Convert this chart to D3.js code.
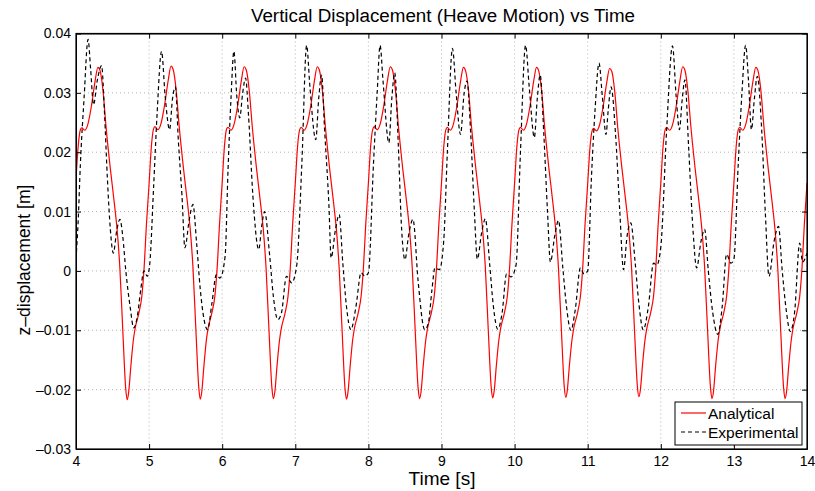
<!DOCTYPE html>
<meta charset="utf-8">
<style>
  body { margin: 0; background: #fff; }
  text { font-family: "Liberation Sans", Arial, sans-serif; fill: #000; }
  .grid line { stroke: #a0a0a0; stroke-width: 0.8; stroke-dasharray: 1,3; }
  .axis path, .axis line { stroke: #000; }
  .axis text { font-size: 14px; }
</style>
<body>
<svg width="815" height="491"></svg>
<script src="https://d3js.org/d3.v7.min.js"></script>
<script>
    // values: [time s, z m]
    let analytical = [
        [4.00,0.0154],[4.03,0.0210],[4.06,0.0238],[4.08,0.0241],[4.12,0.0237],[4.16,0.0246],[4.21,0.0277],[4.26,0.0319],[4.30,0.0343],[4.33,0.0337],[4.37,0.0303],[4.41,0.0244],[4.47,0.0172],[4.53,0.0108],[4.565,0.0066],[4.60,0.0005],[4.64,-0.0100],[4.68,-0.0198],[4.70,-0.0217],[4.72,-0.0205],[4.75,-0.0161],[4.785,-0.0116],[4.81,-0.0096],[4.86,-0.0071],[4.90,-0.0043],[4.93,0.0002],[4.965,0.0081],
        [5.00,0.0147],[5.03,0.0208],[5.06,0.0239],[5.08,0.0243],[5.12,0.0238],[5.16,0.0247],[5.21,0.0278],[5.26,0.0320],[5.30,0.0345],[5.33,0.0339],[5.37,0.0305],[5.41,0.0246],[5.47,0.0173],[5.53,0.0109],[5.565,0.0067],[5.60,0.0006],[5.64,-0.0099],[5.68,-0.0197],[5.70,-0.0216],[5.72,-0.0204],[5.75,-0.0160],[5.785,-0.0115],[5.81,-0.0095],[5.86,-0.0070],[5.90,-0.0042],[5.93,0.0003],[5.965,0.0082],
        [6.00,0.0149],[6.03,0.0209],[6.06,0.0239],[6.08,0.0242],[6.12,0.0237],[6.16,0.0246],[6.21,0.0277],[6.26,0.0319],[6.30,0.0344],[6.33,0.0338],[6.37,0.0304],[6.41,0.0245],[6.47,0.0172],[6.53,0.0108],[6.565,0.0066],[6.60,0.0005],[6.64,-0.0100],[6.68,-0.0197],[6.70,-0.0215],[6.72,-0.0204],[6.75,-0.0160],[6.785,-0.0116],[6.81,-0.0096],[6.86,-0.0071],[6.90,-0.0043],[6.93,0.0002],[6.965,0.0081],
        [7.00,0.0148],[7.03,0.0208],[7.06,0.0238],[7.08,0.0242],[7.12,0.0237],[7.16,0.0246],[7.21,0.0277],[7.26,0.0319],[7.30,0.0344],[7.33,0.0338],[7.37,0.0304],[7.41,0.0245],[7.47,0.0172],[7.53,0.0108],[7.565,0.0066],[7.60,0.0005],[7.64,-0.0100],[7.68,-0.0198],[7.70,-0.0216],[7.72,-0.0205],[7.75,-0.0161],[7.785,-0.0116],[7.81,-0.0096],[7.86,-0.0071],[7.90,-0.0043],[7.93,0.0002],[7.965,0.0081],
        [8.00,0.0148],[8.03,0.0209],[8.06,0.0239],[8.08,0.0243],[8.12,0.0238],[8.16,0.0247],[8.21,0.0278],[8.26,0.0320],[8.30,0.0344],[8.33,0.0338],[8.37,0.0304],[8.41,0.0245],[8.47,0.0172],[8.53,0.0108],[8.565,0.0066],[8.60,0.0005],[8.64,-0.0100],[8.68,-0.0197],[8.70,-0.0215],[8.72,-0.0204],[8.75,-0.0160],[8.785,-0.0116],[8.81,-0.0096],[8.86,-0.0071],[8.90,-0.0043],[8.93,0.0002],[8.965,0.0081],
        [9.00,0.0148],[9.03,0.0208],[9.06,0.0238],[9.08,0.0242],[9.12,0.0237],[9.16,0.0246],[9.21,0.0277],[9.26,0.0319],[9.30,0.0343],[9.33,0.0337],[9.37,0.0303],[9.41,0.0244],[9.47,0.0172],[9.53,0.0108],[9.565,0.0066],[9.60,0.0005],[9.64,-0.0100],[9.68,-0.0196],[9.70,-0.0214],[9.72,-0.0203],[9.75,-0.0160],[9.785,-0.0116],[9.81,-0.0096],[9.86,-0.0071],[9.90,-0.0043],[9.93,0.0002],[9.965,0.0081],
        [10.00,0.0148],[10.03,0.0208],[10.06,0.0238],[10.08,0.0242],[10.12,0.0237],[10.16,0.0246],[10.21,0.0277],[10.26,0.0319],[10.30,0.0343],[10.33,0.0337],[10.37,0.0303],[10.41,0.0244],[10.47,0.0172],[10.53,0.0108],[10.565,0.0066],[10.60,0.0005],[10.64,-0.0099],[10.68,-0.0196],[10.70,-0.0213],[10.72,-0.0202],[10.75,-0.0159],[10.785,-0.0116],[10.81,-0.0096],[10.86,-0.0071],[10.90,-0.0043],[10.93,0.0002],[10.965,0.0081],
        [11.00,0.0147],[11.03,0.0206],[11.06,0.0236],[11.08,0.0240],[11.12,0.0236],[11.16,0.0245],[11.21,0.0276],[11.26,0.0317],[11.30,0.0341],[11.33,0.0336],[11.37,0.0302],[11.41,0.0243],[11.47,0.0171],[11.53,0.0107],[11.565,0.0065],[11.60,0.0005],[11.64,-0.0099],[11.68,-0.0195],[11.70,-0.0212],[11.72,-0.0201],[11.75,-0.0158],[11.785,-0.0115],[11.81,-0.0096],[11.86,-0.0071],[11.90,-0.0043],[11.93,0.0002],[11.965,0.0081],
        [12.00,0.0148],[12.03,0.0208],[12.06,0.0238],[12.08,0.0242],[12.12,0.0237],[12.16,0.0246],[12.21,0.0277],[12.26,0.0319],[12.30,0.0344],[12.33,0.0338],[12.37,0.0304],[12.41,0.0245],[12.47,0.0172],[12.53,0.0108],[12.565,0.0066],[12.60,0.0005],[12.64,-0.0100],[12.68,-0.0197],[12.70,-0.0215],[12.72,-0.0204],[12.75,-0.0160],[12.785,-0.0116],[12.81,-0.0096],[12.86,-0.0071],[12.90,-0.0043],[12.93,0.0002],[12.965,0.0081],
        [13.00,0.0148],[13.03,0.0208],[13.06,0.0238],[13.08,0.0242],[13.12,0.0237],[13.16,0.0246],[13.21,0.0277],[13.26,0.0319],[13.30,0.0343],[13.33,0.0337],[13.37,0.0303],[13.41,0.0244],[13.47,0.0172],[13.53,0.0108],[13.565,0.0066],[13.60,0.0005],[13.64,-0.0100],[13.68,-0.0197],[13.70,-0.0215],[13.72,-0.0204],[13.75,-0.0160],[13.785,-0.0116],[13.81,-0.0096],[13.86,-0.0071],[13.90,-0.0043],[13.93,0.0002],[13.965,0.0081],
        [14.00,0.0148]
    ];

    let experimental = [
        [4.00,0.0020],[4.03,0.0085],[4.06,0.0180],[4.11,0.0290],[4.165,0.0390],[4.20,0.0340],[4.24,0.0280],[4.29,0.0320],[4.35,0.0346],[4.39,0.0266],[4.43,0.0154],[4.47,0.0070],[4.51,0.0030],[4.56,0.0070],[4.60,0.0087],[4.64,0.0058],[4.68,0.0002],[4.74,-0.0060],[4.79,-0.0096],[4.84,-0.0076],[4.886,-0.0031],[4.93,0.0000],[4.975,-0.0009],
        [5.01,0.0013],[5.06,0.0137],[5.11,0.0266],[5.17,0.0370],[5.22,0.0294],[5.28,0.0238],[5.32,0.0290],[5.36,0.0310],[5.40,0.0220],[5.45,0.0126],[5.49,0.0039],[5.55,0.0087],[5.60,0.0112],[5.65,0.0047],[5.70,-0.0031],[5.80,-0.0099],[5.86,-0.0054],[5.92,-0.0006],[5.97,-0.0012],
        [6.04,0.0025],[6.08,0.0171],[6.12,0.0290],[6.16,0.0370],[6.20,0.0294],[6.24,0.0258],[6.28,0.0300],[6.32,0.0325],[6.36,0.0262],[6.42,0.0126],[6.50,0.0036],[6.54,0.0075],[6.58,0.0100],[6.65,0.0025],[6.70,-0.0043],[6.76,-0.0082],[6.81,-0.0071],[6.88,-0.0009],[6.95,-0.0020],
        [7.02,0.0010],[7.09,0.0182],[7.155,0.0380],[7.20,0.0310],[7.28,0.0221],[7.32,0.0290],[7.36,0.0330],[7.40,0.0240],[7.46,0.0110],[7.49,0.0022],[7.55,0.0070],[7.60,0.0095],[7.65,0.0013],[7.70,-0.0060],[7.76,-0.0099],[7.83,-0.0060],[7.90,-0.0003],[7.95,-0.0009],
        [8.00,-0.0003],[8.07,0.0182],[8.12,0.0300],[8.16,0.0380],[8.20,0.0320],[8.28,0.0216],[8.32,0.0290],[8.36,0.0334],[8.41,0.0210],[8.45,0.0081],[8.50,0.0019],[8.55,0.0060],[8.61,0.0087],[8.68,-0.0017],[8.77,-0.0099],[8.82,-0.0088],[8.87,-0.0031],[8.91,0.0005],[8.97,0.0002],
        [9.03,0.0050],[9.08,0.0200],[9.15,0.0375],[9.20,0.0300],[9.26,0.0230],[9.31,0.0300],[9.35,0.0320],[9.40,0.0230],[9.45,0.0100],[9.49,0.0020],[9.55,0.0065],[9.60,0.0088],[9.66,0.0010],[9.71,-0.0060],[9.77,-0.0098],[9.83,-0.0070],[9.89,-0.0005],[9.95,-0.0010],
        [10.02,0.0010],[10.08,0.0200],[10.15,0.0380],[10.20,0.0310],[10.27,0.0225],[10.31,0.0290],[10.35,0.0330],[10.40,0.0230],[10.45,0.0100],[10.49,0.0015],[10.55,0.0060],[10.60,0.0085],[10.66,0.0005],[10.71,-0.0060],[10.77,-0.0100],[10.83,-0.0065],[10.90,0.0005],[10.95,-0.0005],
        [11.00,0.0000],[11.05,0.0154],[11.10,0.0270],[11.155,0.0350],[11.20,0.0294],[11.25,0.0230],[11.28,0.0270],[11.32,0.0310],[11.38,0.0232],[11.44,0.0098],[11.49,0.0002],[11.54,0.0060],[11.59,0.0081],[11.65,0.0013],[11.70,-0.0055],[11.76,-0.0099],[11.83,-0.0060],[11.90,0.0013],[11.945,0.0010],
        [12.00,0.0040],[12.08,0.0238],[12.16,0.0379],[12.21,0.0294],[12.255,0.0238],[12.29,0.0285],[12.33,0.0322],[12.38,0.0210],[12.44,0.0070],[12.49,0.0005],[12.55,0.0050],[12.60,0.0070],[12.65,0.0000],[12.71,-0.0070],[12.78,-0.0107],[12.84,-0.0060],[12.90,0.0028],[12.96,0.0013],
        [13.00,0.0020],[13.06,0.0182],[13.11,0.0300],[13.16,0.0380],[13.20,0.0320],[13.24,0.0238],[13.28,0.0290],[13.32,0.0328],[13.38,0.0238],[13.43,0.0098],[13.48,-0.0009],[13.55,0.0050],[13.61,0.0075],[13.66,0.0002],[13.72,-0.0070],[13.77,-0.0102],[13.83,-0.0070],[13.90,0.0047],[13.94,0.0015],[14.00,0.0030]
    ];

    let xTicks = [4, 5, 6, 7, 8, 9, 10, 11, 12, 13, 14];
    let yTicks = [-0.03, -0.02, -0.01, 0, 0.01, 0.02, 0.03, 0.04];
    let seriesNames = ["Analytical", "Experimental"];

    var svg = d3.select("svg");
    // plot box edges (avoid the name "top", it is window.top)
    var boxL = 76, boxR = 807, boxT = 33.5, boxB = 449;

    var x = d3.scaleLinear().domain([4, 14]).range([boxL, boxR]);
    var y = d3.scaleLinear().domain([-0.03, 0.04]).range([boxB, boxT]);

    svg.append("rect").attr("width", 815).attr("height", 491).attr("fill", "#fff");

    // dotted grid
    var grid = svg.append("g").attr("class", "grid");
    grid.selectAll("line.gx")
        .data(xTicks.slice(1, -1))
        .enter().append("line")
            .attr("x1", d => x(d)).attr("x2", d => x(d))
            .attr("y1", boxT).attr("y2", boxB);
    grid.selectAll("line.gy")
        .data(yTicks.slice(1, -1))
        .enter().append("line")
            .attr("x1", boxL).attr("x2", boxR)
            .attr("y1", d => y(d)).attr("y2", d => y(d));

    svg.append("clipPath").attr("id", "plot")
        .append("rect").attr("x", boxL).attr("y", boxT)
        .attr("width", boxR - boxL).attr("height", boxB - boxT);

    var line = d3.line()
        .x(d => x(d[0]))
        .y(d => y(d[1]))
        .curve(d3.curveMonotoneX);

    var lines = svg.append("g").attr("clip-path", "url(#plot)");
    lines.append("path")
        .datum(analytical)
        .attr("fill", "none")
        .attr("stroke", "#ff0000")
        .attr("stroke-width", 1.2)
        .attr("d", line);
    lines.append("path")
        .datum(experimental)
        .attr("fill", "none")
        .attr("stroke", "#000")
        .attr("stroke-width", 1.2)
        .attr("stroke-dasharray", "4,3")
        .attr("d", line);

    // axes, MATLAB style ticks inside the box
    function fmt(d) { return d < 0 ? "\u2013" + d3.format("")(-d) : d3.format("")(d); }

    svg.append("g").attr("class", "axis")
        .attr("transform", "translate(0," + boxB + ")")
        .call(d3.axisBottom(x).tickValues(xTicks).tickSizeInner(-5).tickSizeOuter(0).tickPadding(7).tickFormat(d3.format("d")));
    svg.append("g").attr("class", "axis")
        .attr("transform", "translate(0," + boxT + ")")
        .call(d3.axisTop(x).tickValues(xTicks).tickSizeInner(-5).tickSizeOuter(0).tickFormat(""));
    svg.append("g").attr("class", "axis")
        .attr("transform", "translate(" + boxL + ",0)")
        .call(d3.axisLeft(y).tickValues(yTicks).tickSizeInner(-5).tickSizeOuter(0).tickPadding(5).tickFormat(fmt));
    svg.append("g").attr("class", "axis")
        .attr("transform", "translate(" + boxR + ",0)")
        .call(d3.axisRight(y).tickValues(yTicks).tickSizeInner(-5).tickSizeOuter(0).tickFormat(""));

    svg.append("rect")
        .attr("x", boxL).attr("y", boxT)
        .attr("width", boxR - boxL).attr("height", boxB - boxT)
        .attr("fill", "none").attr("stroke", "#000").attr("stroke-width", 1.2);

    svg.append("text")
        .attr("x", 443).attr("y", 22)
        .attr("text-anchor", "middle")
        .style("font-size", "18.8px")
        .text("Vertical Displacement (Heave Motion) vs Time");
    svg.append("text")
        .attr("x", 442).attr("y", 485)
        .attr("text-anchor", "middle")
        .style("font-size", "19px")
        .text("Time [s]");
    svg.append("text")
        .attr("transform", "translate(30,260) rotate(-90)")
        .attr("text-anchor", "middle")
        .style("font-size", "17.5px")
        .text("z\u2013displacement [m]");

    // legend
    var legend = svg.append("g").attr("transform", "translate(675,402)");
    legend.append("rect")
        .attr("width", 127).attr("height", 43)
        .attr("fill", "#fff").attr("stroke", "#000").attr("stroke-width", 1);
    var items = legend.selectAll("g.item")
        .data(seriesNames)
        .enter().append("g")
            .attr("transform", (d, i) => "translate(0," + (11 + i * 19) + ")");
    items.append("line")
        .attr("x1", 6).attr("x2", 31)
        .attr("stroke", (d, i) => i == 0 ? "#ff0000" : "#000")
        .attr("stroke-width", 1.2)
        .attr("stroke-dasharray", (d, i) => i == 0 ? null : "4,3");
    items.append("text")
        .attr("x", 33).attr("y", 5.5)
        .style("font-size", "15.5px")
        .text(d => d);
</script>
</body>
